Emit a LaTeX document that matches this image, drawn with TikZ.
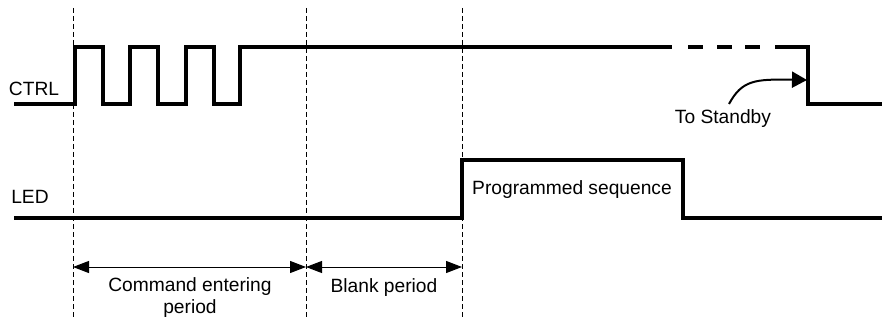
\documentclass[tikz,border=0pt]{standalone}
\usepackage{fontspec}
\setmainfont{Liberation Sans}
\usetikzlibrary{arrows.meta,positioning}

\begin{document}
\begin{tikzpicture}[x=0.5pt,y=-0.5pt,
  signal/.style={line width=2.2pt},
  guide/.style={line width=0.5pt,dash pattern=on 2.5pt off 1.5pt},
  label/.style={inner sep=0pt,font=\fontsize{9.6}{10}\selectfont},
  >={Triangle[length=8pt,width=6pt]}]
\useasboundingbox (0,0) rectangle (882,320);
% time marks
\foreach \x/\n in {73/a,306/b,462/c}
  {\draw[guide] (\x,8) -- (\x,320);
   \coordinate (t-\n) at (\x,267);}
% CTRL
\node[label] (ctrl) at (34,89) {CTRL};
\draw[signal] (14,104) -- (75,104) -- (75,47) -- (103,47) -- (103,104) -- (130,104)
  -- (130,47) -- (158,47) -- (158,104) -- (186,104) -- (186,47) -- (214,47)
  -- (214,104) -- (240,104) -- (240,47) -- (672,47);
\foreach \x in {688,717,745}
  \draw[signal] (\x,47) -- ++(15,0);
\draw[signal] (775,47) -- (808,47) -- (808,104) -- (882,104);
\coordinate (fall) at (807,80);
\node[label] (stb) at (723,119) {To Standby};
\draw[line width=1pt,-{Triangle[length=7.5pt,width=8pt]}] (729,104) .. controls (742,80) and (755,79) .. (fall);
% LED
\node[label] (led) at (30,197) {LED};
\draw[signal] (14,218) -- (462,218) -- (462,160) -- (683,160) -- (683,218) -- (882,218);
\node[label] (seq) at (572,190) {Programmed sequence};
% periods
\path[<->,line width=0.5pt] (t-a) edge (t-b) (t-b) edge (t-c);
\node[label,align=center] (cmd) at (190,298) {Command entering\\[1pt]period};
\node[label] (blank) at (384,288) {Blank period};
\end{tikzpicture}
\end{document}
